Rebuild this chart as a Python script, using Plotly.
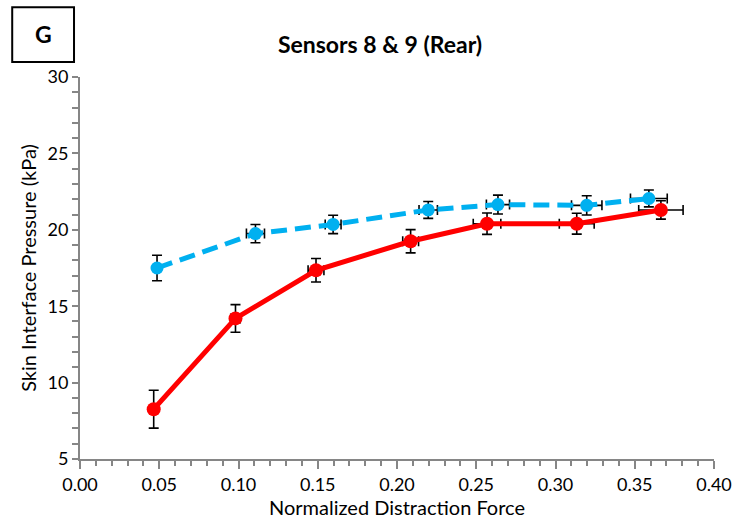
import plotly.graph_objects as go

# Data
red_x = [0.0465, 0.0981, 0.1489, 0.2086, 0.2568, 0.3134, 0.3665]
red_y = [8.26, 14.2, 17.35, 19.25, 20.4, 20.4, 21.3]
red_ey = [1.24, 0.9, 0.77, 0.76, 0.7, 0.68, 0.6]
red_ex = [0.0015, 0.003, 0.005, 0.005, 0.0087, 0.011, 0.014]

blue_x = [0.0486, 0.1107, 0.1597, 0.2197, 0.2637, 0.3197, 0.3589]
blue_y = [17.5, 19.75, 20.35, 21.3, 21.65, 21.6, 22.05]
blue_ey = [0.83, 0.6, 0.6, 0.55, 0.62, 0.63, 0.55]
blue_ex = [0.002, 0.0057, 0.005, 0.0058, 0.0073, 0.0096, 0.0116]

x_ticks = [0.0, 0.05, 0.10, 0.15, 0.20, 0.25, 0.30, 0.35, 0.40]
x_tick_labels = ["0.00", "0.05", "0.10", "0.15", "0.20", "0.25", "0.30", "0.35", "0.40"]
y_ticks = [5, 10, 15, 20, 25, 30]

FONT = "Lato"
W, H = 744, 523
L, R, T, B = 80, 28, 77, 63
pw, ph = W - L - R, H - T - B

def px_to_paper_x(px):
    return (px - L) / pw

def px_to_paper_y(py):
    return (H - B - py) / ph

fig = go.Figure()

fig.add_trace(go.Scatter(
    x=blue_x, y=blue_y, mode="lines+markers",
    line=dict(color="#00B0F0", width=5, dash="16px,8px"),
    marker=dict(color="#00B0F0", size=13),
    error_y=dict(type="data", array=blue_ey, color="black", thickness=1.6, width=5),
    error_x=dict(type="data", array=blue_ex, color="black", thickness=1.6, width=5),
    showlegend=False,
))
fig.add_trace(go.Scatter(
    x=red_x, y=red_y, mode="lines+markers",
    line=dict(color="#FF0000", width=5),
    marker=dict(color="#FF0000", size=14),
    error_y=dict(type="data", array=red_ey, color="black", thickness=1.6, width=5),
    error_x=dict(type="data", array=red_ex, color="black", thickness=1.6, width=5),
    showlegend=False,
))

axis_color = "#868686"
fig.update_layout(
    width=W, height=H,
    margin=dict(l=L, r=R, t=T, b=B),
    paper_bgcolor="white", plot_bgcolor="white",
    font=dict(family=FONT, color="black"),
    title=dict(text="<b>Sensors 8 & 9 (Rear)</b>", x=380 / W, xanchor="center",
               y=1 - 45 / H, yanchor="middle", font=dict(size=23, family=FONT, color="black")),
    xaxis=dict(
        range=[0, 0.40], tickvals=x_ticks, ticktext=x_tick_labels,
        showgrid=False, zeroline=False, showline=True, linecolor=axis_color, linewidth=2,
        ticks="outside", ticklen=8, tickcolor=axis_color, tickwidth=1.5,
        tickfont=dict(size=18, family=FONT, color="black"),
        minor=dict(dtick=0.01, ticks="outside", ticklen=5, tickcolor=axis_color, tickwidth=1.5),
        title=dict(text="Normalized Distraction Force", font=dict(size=20, family=FONT, color="black"), standoff=2),
    ),
    yaxis=dict(
        range=[5, 30], tickvals=y_ticks,
        showgrid=False, zeroline=False, showline=True, linecolor=axis_color, linewidth=2,
        ticks="outside", ticklen=6, tickcolor=axis_color, tickwidth=1.5,
        tickfont=dict(size=18, family=FONT, color="black"),
        minor=dict(dtick=1, ticks="outside", ticklen=6, tickcolor=axis_color, tickwidth=1.5),
        title=dict(text="Skin Interface Pressure (kPa)", font=dict(size=20, family=FONT, color="black"), standoff=6),
    ),
)

# Panel label box "G"
fig.add_shape(type="rect", xref="paper", yref="paper",
              x0=px_to_paper_x(12), x1=px_to_paper_x(74),
              y0=px_to_paper_y(62), y1=px_to_paper_y(7),
              line=dict(color="black", width=2), fillcolor="white")
fig.add_annotation(xref="paper", yref="paper", x=px_to_paper_x(43), y=px_to_paper_y(34),
                   text="<b>G</b>", showarrow=False, font=dict(size=23, family=FONT, color="black"),
                   xanchor="center", yanchor="middle")

fig.write_html("out.html")
